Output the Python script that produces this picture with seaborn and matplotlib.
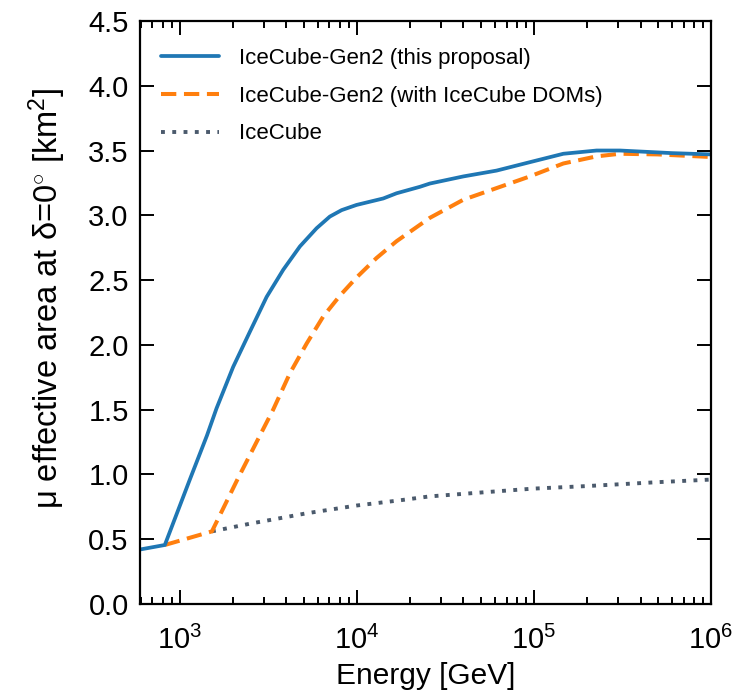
import numpy as np
import pandas as pd
import matplotlib
matplotlib.use("Agg")
import matplotlib.pyplot as plt
from matplotlib.ticker import LogLocator, MultipleLocator, NullFormatter
import seaborn as sns

# (energy in GeV, area in km^2)
gen2_energy = [594, 822, 1138, 1422, 1611, 2000, 2483, 3090, 3837, 4766,
               5917, 7030, 8200, 9953, 14090, 16750, 22700, 25800, 39900,
               61500, 94800, 146600, 226000, 306000, 600000, 1000000]
gen2_area = [0.42, 0.455, 0.96, 1.30, 1.51, 1.83, 2.10, 2.37, 2.58, 2.76,
             2.90, 2.99, 3.04, 3.08, 3.13, 3.17, 3.22, 3.245, 3.30,
             3.345, 3.41, 3.475, 3.50, 3.50, 3.48, 3.47]

gen2_icdom_energy = [822, 1517, 2130, 2831, 3365, 4180, 5200, 6460, 8020,
                     9953, 12900, 16750, 25800, 39900, 61500, 94800,
                     146600, 226000, 306000, 500000, 1000000]
gen2_icdom_area = [0.455, 0.56, 0.97, 1.30, 1.50, 1.78, 2.01, 2.22, 2.38,
                   2.52, 2.67, 2.80, 2.98, 3.12, 3.21, 3.30, 3.40,
                   3.455, 3.475, 3.47, 3.45]

icecube_energy = [1517, 2500, 5210, 10000, 17500, 25700, 50000, 98600,
                  200000, 500000, 1000000]
icecube_area = [0.56, 0.62, 0.70, 0.76, 0.80, 0.83, 0.86, 0.89, 0.91,
                0.94, 0.96]

labels = ["IceCube-Gen2 (this proposal)",
          "IceCube-Gen2 (with IceCube DOMs)",
          "IceCube"]

sns.set_theme(style="ticks")
plt.rcParams["font.family"] = ["Liberation Sans", "DejaVu Sans"]
plt.rcParams["mathtext.fontset"] = "custom"
plt.rcParams["mathtext.rm"] = "Liberation Sans"
plt.rcParams["mathtext.it"] = "Liberation Sans:italic"
plt.rcParams["axes.linewidth"] = 1.6
for key in ("text.color", "axes.labelcolor", "xtick.color", "ytick.color",
            "axes.edgecolor"):
    plt.rcParams[key] = "black"

fig = plt.figure(figsize=(7.36, 6.99), dpi=100)
ax = fig.add_axes([0.190, 0.136, 0.776, 0.834])

ice = pd.DataFrame({"energy": icecube_energy, "area": icecube_area})
icdom = pd.DataFrame({"energy": gen2_icdom_energy, "area": gen2_icdom_area})
gen2 = pd.DataFrame({"energy": gen2_energy, "area": gen2_area})

sns.lineplot(data=ice, x="energy", y="area", ax=ax, color="#4b5a6c",
             lw=2.8, linestyle=(0, (1.0, 1.9)), dash_capstyle="butt",
             label=labels[2], sort=False)
sns.lineplot(data=icdom, x="energy", y="area", ax=ax, color="#ff7f0e",
             lw=2.9, linestyle=(0, (3.8, 1.9)), label=labels[1], sort=False)
sns.lineplot(data=gen2, x="energy", y="area", ax=ax, color="#1f77b4",
             lw=2.7, label=labels[0], sort=False)

ax.set_xscale("log")
ax.set_xlim(594, 1e6)
ax.set_ylim(0, 4.5)
ax.xaxis.set_major_locator(LogLocator(base=10, numticks=10))
ax.xaxis.set_minor_locator(LogLocator(base=10, subs=np.arange(2, 10),
                                      numticks=20))
ax.xaxis.set_minor_formatter(NullFormatter())
ax.yaxis.set_major_locator(MultipleLocator(0.5))
ax.yaxis.set_major_formatter(plt.FormatStrFormatter("%.1f"))

ax.tick_params(which="both", direction="in", top=True, right=True,
               width=1.4, labelsize=21)
ax.tick_params(axis="y", pad=8)
ax.tick_params(axis="x", pad=16)
ax.tick_params(which="major", length=10)
ax.tick_params(which="minor", length=5)

ax.set_xlabel("Energy [GeV]", fontsize=21.5, labelpad=5)
ax.set_ylabel(r"μ effective area at δ=0$^{\circ}$ [km$^{2}$]", fontsize=23.5)
ax.yaxis.set_label_coords(-0.125, 0.525)

handles, labs = ax.get_legend_handles_labels()
order = [labs.index(l) for l in labels]
ax.legend([handles[i] for i in order], [labs[i] for i in order],
          loc="upper left", frameon=False, fontsize=16, handlelength=2.6,
          handletextpad=0.9, labelspacing=0.76,
          bbox_to_anchor=(-0.009, 1.0), borderaxespad=0.8)

fig.savefig("out.png", dpi=100)
